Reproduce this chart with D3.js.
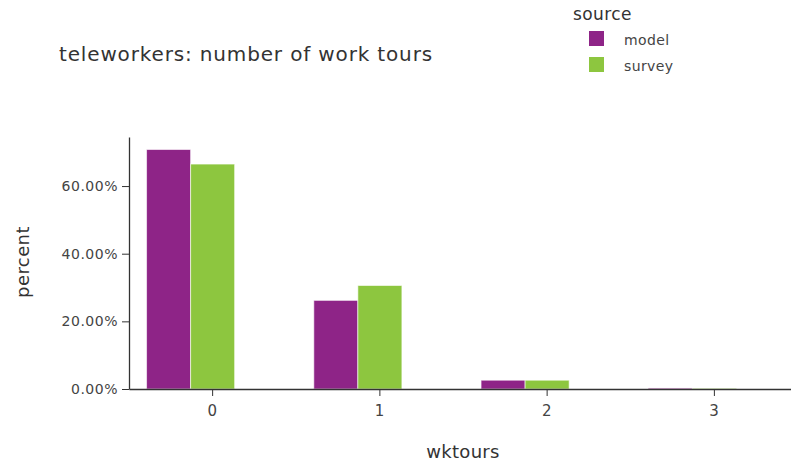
<!DOCTYPE html>
<html>
<head>
<meta charset="utf-8">
<script src="https://cdn.jsdelivr.net/npm/d3@7"></script>
<style>
  body { margin: 0; background: #fff; font-family: "DejaVu Sans", sans-serif; }
  .axis path, .axis line { stroke: #333; }
  .axis text { fill: #444; font-size: 14px; letter-spacing: 0.5px; font-family: "DejaVu Sans", sans-serif; }
</style>
</head>
<body>
<div id="chart"></div>
<script>
var wktours = ["0", "1", "2", "3"];
var sources = ["model", "survey"];
var model  = [0.708, 0.262, 0.026, 0.003];
var survey = [0.665, 0.306, 0.026, 0.002];
var yTicks = [0, 0.2, 0.4, 0.6];
var colors = ["#8e2487", "#8dc63f"];

var data = wktours.map(function(k, i) {
  return { wktours: k, model: model[i], survey: survey[i] };
});

var svg = d3.select("#chart")
    .append("svg")
    .attr("width", 791)
    .attr("height", 466);

var margin = {top: 137, right: -7, bottom: 77, left: 129},
    width = +svg.attr("width") - margin.left - margin.right,
    height = +svg.attr("height") - margin.top - margin.bottom,
    g = svg.append("g").attr("transform", "translate(" + margin.left + "," + margin.top + ")");

var x = d3.scaleBand()
    .domain(wktours)
    .range([0, width])
    .paddingInner(0.21)
    .paddingOuter(0.105);

// bars take 2 of 3 slots in each group (third slot empty, like the source)
var x1 = d3.scaleBand()
    .domain(sources)
    .range([0, x.bandwidth() * 2 / 3]);

var y = d3.scaleLinear()
    .domain([0, 0.745])
    .range([height, 0]);

var z = d3.scaleOrdinal().domain(sources).range(colors);

g.append("g")
  .selectAll("g")
  .data(data)
  .enter().append("g")
    .attr("transform", function(d) { return "translate(" + x(d.wktours) + ",0)"; })
  .selectAll("rect")
  .data(function(d) { return sources.map(function(s) { return {key: s, value: d[s]}; }); })
  .enter().append("rect")
    .attr("x", function(d) { return x1(d.key); })
    .attr("y", function(d) { return y(d.value); })
    .attr("width", x1.bandwidth())
    .attr("height", function(d) { return height - y(d.value); })
    .attr("fill", function(d) { return z(d.key); })
    .attr("stroke", "rgba(255,255,255,0.6)")
    .attr("stroke-width", 1);

g.append("g")
    .attr("class", "x axis")
    .attr("transform", "translate(0," + height + ")")
    .call(d3.axisBottom(x).tickSizeOuter(0).tickSizeInner(7).tickPadding(9))
    .selectAll("text").style("font-size", "15px");

g.append("g")
    .attr("class", "y axis")
    .call(d3.axisLeft(y).tickValues(yTicks).tickFormat(d3.format(".2%")).tickSizeOuter(0).tickSizeInner(7).tickPadding(4));

g.selectAll(".axis path").attr("stroke-width", 1.3);

svg.append("text")
    .attr("x", 59)
    .attr("y", 61)
    .attr("fill", "#333")
    .style("font-size", "20px")
    .style("letter-spacing", "0.85px")
    .text("teleworkers: number of work tours");

svg.append("text")
    .attr("transform", "translate(29,262) rotate(-90)")
    .attr("text-anchor", "middle")
    .attr("fill", "#333")
    .style("font-size", "18px")
    .style("letter-spacing", "0.4px")
    .text("percent");

svg.append("text")
    .attr("x", 463)
    .attr("y", 458)
    .attr("text-anchor", "middle")
    .attr("fill", "#333")
    .style("font-size", "18px")
    .style("letter-spacing", "0.3px")
    .text("wktours");

var legend = svg.append("g").attr("transform", "translate(573,0)");
legend.append("text")
    .attr("x", 0)
    .attr("y", 20)
    .attr("fill", "#333")
    .style("font-size", "17px")
    .style("letter-spacing", "0.4px")
    .text("source");

var items = legend.selectAll(".item")
  .data(sources)
  .enter().append("g")
    .attr("transform", function(d, i) { return "translate(16," + (31 + i * 26) + ")"; });

items.append("rect")
    .attr("width", 15)
    .attr("height", 15)
    .attr("fill", function(d) { return z(d); });

items.append("text")
    .attr("x", 35)
    .attr("y", 14)
    .attr("fill", "#444")
    .style("font-size", "14px")
    .style("letter-spacing", "0.4px")
    .text(function(d) { return d; });
</script>
</body>
</html>
